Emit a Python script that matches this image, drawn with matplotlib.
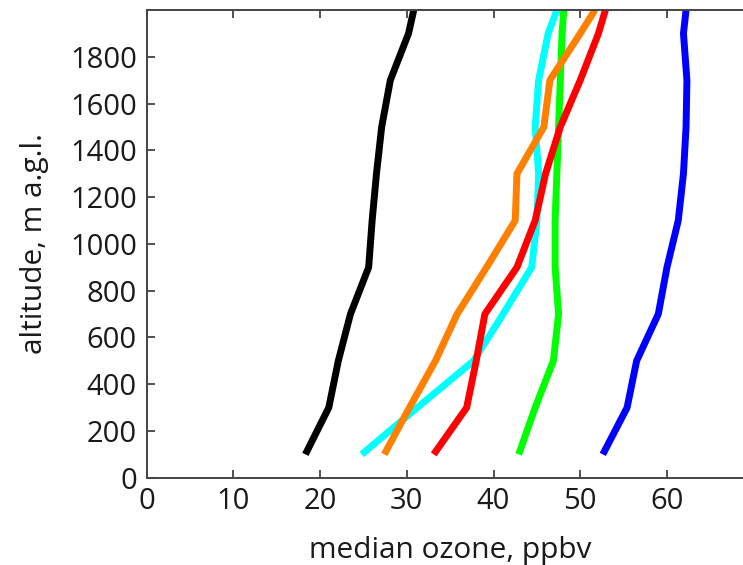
import matplotlib.pyplot as plt

# altitude levels (m a.g.l.) and median ozone (ppbv) per profile
altitude = [100, 300, 500, 700, 900, 1100, 1300, 1500, 1700, 1900, 2000]

ozone_black = [18.3, 21.0, 22.1, 23.5, 25.6, 26.0, 26.5, 27.1, 28.1, 30.2, 30.8]
ozone_blue = [52.6, 55.4, 56.5, 59.0, 60.0, 61.3, 61.9, 62.2, 62.3, 61.9, 62.2]
ozone_green = [42.9, 44.8, 46.9, 47.5, 47.1, 47.1, 47.3, 47.5, 47.7, 47.9, 48.1]
ozone_cyan = [24.8, 31.2, 37.7, 41.1, 44.4, 45.0, 45.2, 44.8, 45.2, 46.3, 47.3]
ozone_orange = [27.4, 30.3, 33.3, 35.8, 39.2, 42.5, 42.7, 45.8, 46.5, 50.0, 51.7]
ozone_red = [33.1, 36.9, 38.0, 39.0, 42.7, 44.8, 46.0, 47.7, 50.0, 52.1, 52.9]

profiles = [
    (ozone_black, 'black'),
    (ozone_blue, 'blue'),
    (ozone_green, '#00ff00'),
    (ozone_cyan, 'cyan'),
    (ozone_orange, '#ff8000'),
    (ozone_red, 'red'),
]

plt.rcParams['font.family'] = ['Open Sans', 'DejaVu Sans']

fig = plt.figure(figsize=(7.43, 5.65), dpi=100)
ax = fig.add_axes([0.1974, 0.1544, 0.817, 0.8279])

for values, color in profiles:
    ax.plot(values, altitude, color=color, linewidth=5, solid_capstyle='butt')

ax.set_xlim(0, 70)
ax.set_ylim(0, 2000)
ax.set_xticks(range(0, 70, 10))
ax.set_yticks(range(0, 2000, 200))

ax.tick_params(direction='in', length=6, width=1.2, top=True, right=False,
               labelsize=21, pad=7, colors='#333333', labelcolor='#1a1a1a')
for side in ['left', 'bottom', 'top']:
    ax.spines[side].set_color('#444444')
    ax.spines[side].set_linewidth(1.4)
ax.spines['right'].set_visible(False)

ax.set_xlabel('median ozone, ppbv', fontsize=21.5, color='#1a1a1a', labelpad=14)
ax.set_ylabel('altitude, m a.g.l.', fontsize=21.5, color='#1a1a1a', labelpad=15)

fig.savefig('out.png', dpi=100)
